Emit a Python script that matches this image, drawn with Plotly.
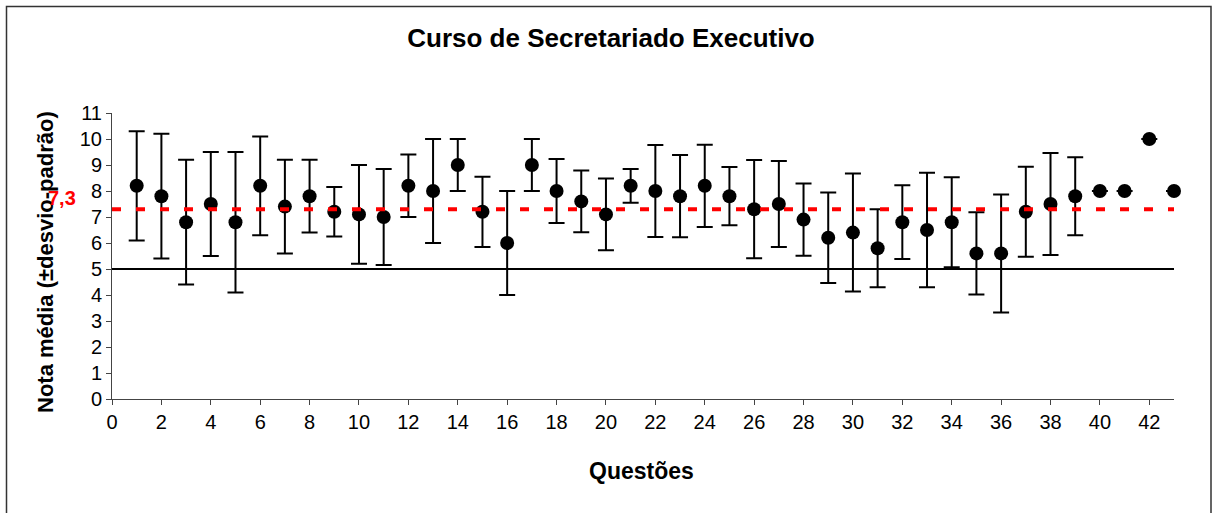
import plotly.graph_objects as go

# %%
# Dados: nota média e desvio-padrão por questão
questoes = list(range(1, 44))
nota_media = [
    8.2, 7.8, 6.8, 7.5, 6.8, 8.2, 7.4, 7.8, 7.2, 7.1,
    7.0, 8.2, 8.0, 9.0, 7.2, 6.0, 9.0, 8.0, 7.6, 7.1,
    8.2, 8.0, 7.8, 8.2, 7.8, 7.3, 7.5, 6.9, 6.2, 6.4,
    5.8, 6.8, 6.5, 6.8, 5.6, 5.6, 7.2, 7.5, 7.8, 8.0,
    8.0, 10.0, 8.0,
]
desvio_padrao = [
    2.1, 2.4, 2.4, 2.0, 2.7, 1.9, 1.8, 1.4, 0.95, 1.9,
    1.85, 1.2, 2.0, 1.0, 1.35, 2.0, 1.0, 1.23, 1.19, 1.38,
    0.65, 1.77, 1.58, 1.58, 1.12, 1.89, 1.65, 1.39, 1.74, 2.27,
    1.5, 1.42, 2.2, 1.73, 1.58, 2.27, 1.73, 1.96, 1.5, 0.0,
    0.0, 0.0, 0.0,
]
media_geral = 7.3
nota_minima = 5

FONT = "Arial, Liberation Sans, sans-serif"

# %%
fig = go.Figure()

fig.add_trace(go.Scatter(
    x=questoes,
    y=nota_media,
    mode="markers",
    marker=dict(color="black", size=14),
    error_y=dict(type="data", array=desvio_padrao, visible=True,
                 color="black", thickness=2, width=8),
    cliponaxis=False,
    showlegend=False,
))

# linha da nota mínima e da média geral
fig.add_shape(type="line", xref="x", yref="y", x0=0, x1=43,
              y0=nota_minima, y1=nota_minima,
              line=dict(color="black", width=2))
fig.add_shape(type="line", xref="x", yref="y", x0=0, x1=43,
              y0=media_geral, y1=media_geral,
              line=dict(color="#ff0000", width=4, dash="9px,15px"))

W, H = 1214, 513
L, R, T, B = 112, 40, 113, 114
pw, ph = W - L - R, H - T - B


def px_x(p):
    return (p - L) / pw


def px_y(p):
    return (H - B - p) / ph


# moldura do gráfico
fig.add_shape(type="rect", xref="paper", yref="paper",
              x0=px_x(6.5), x1=px_x(1211), y0=px_y(530), y1=px_y(6.5),
              line=dict(color="#333333", width=1.5), layer="below")

fig.update_layout(
    width=W,
    height=H,
    margin=dict(l=L, r=R, t=T, b=B),
    paper_bgcolor="white",
    plot_bgcolor="white",
    font=dict(family=FONT, color="black"),
    title=dict(text="<b>Curso de Secretariado Executivo</b>",
               x=px_x(611), xanchor="center", xref="paper",
               y=1 - 38 / H, yanchor="middle",
               font=dict(size=26, family=FONT)),
    annotations=[
        dict(text="<b>Nota média (±desvio-padrão)</b>", textangle=-90,
             xref="paper", yref="paper", x=px_x(45), y=px_y(262),
             xanchor="center", yanchor="middle", showarrow=False,
             font=dict(size=22, family=FONT)),
        dict(text="<b>Questões</b>",
             xref="paper", yref="paper", x=px_x(641), y=px_y(471),
             xanchor="center", yanchor="middle", showarrow=False,
             font=dict(size=23, family=FONT)),
        dict(text="<b>7,3</b>",
             xref="paper", yref="y", x=px_x(78), y=media_geral,
             xanchor="right", yanchor="bottom", yshift=-2, showarrow=False,
             font=dict(size=20, family=FONT, color="#ff0000")),
    ],
)

fig.update_xaxes(
    range=[0, 43], dtick=2, tick0=0,
    showline=True, linecolor="#444444", linewidth=1,
    ticks="outside", ticklen=5, tickcolor="#444444",
    showgrid=False, zeroline=False,
    tickfont=dict(size=20, family=FONT),
)
fig.update_yaxes(
    range=[0, 11], dtick=1, tick0=0,
    showline=True, linecolor="#444444", linewidth=1,
    ticks="outside", ticklen=5, tickcolor="#444444",
    showgrid=False, zeroline=False,
    tickfont=dict(size=20, family=FONT),
)

# sem a margem padrão do body, para o gráfico ocupar a janela toda
fig.write_html("out.html", config={"displayModeBar": False},
               post_script="document.body.style.margin = '0';")
